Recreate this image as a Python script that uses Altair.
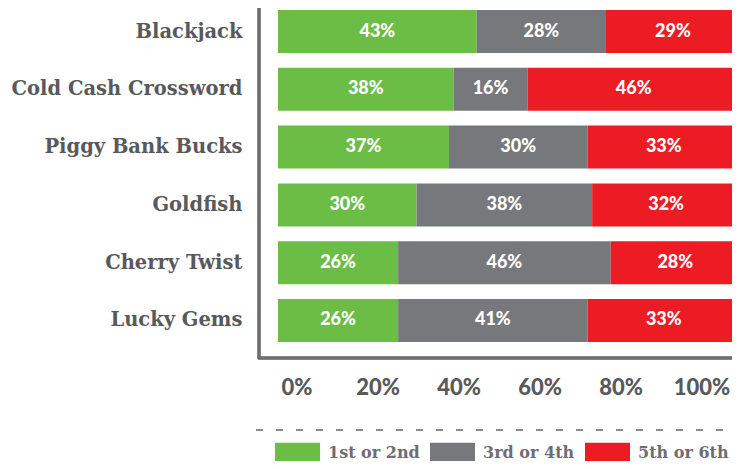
import altair as alt
import pandas as pd

games = ["Blackjack", "Cold Cash Crossword", "Piggy Bank Bucks", "Goldfish", "Cherry Twist", "Lucky Gems"]
groups = ["1st or 2nd", "3rd or 4th", "5th or 6th"]
first_second = [43, 38, 37, 30, 26, 26]
third_fourth = [28, 16, 30, 38, 46, 41]
fifth_sixth = [29, 46, 33, 32, 28, 33]
tick_values = [0, 20, 40, 60, 80, 100]
tick_labels = ["0%", "20%", "40%", "60%", "80%", "100%"]
colors = ["#6cbd45", "#77787b", "#ed1c24"]

rows = []
for i, g in enumerate(games):
    for j, (grp, vals) in enumerate(zip(groups, [first_second, third_fourth, fifth_sixth])):
        rows.append({"game": g, "group": grp, "value": vals[i], "ord": j})
df = pd.DataFrame(rows)
ticks = pd.DataFrame({"v": tick_values, "label": tick_labels})

SERIF = "DejaVu Serif"
SANS = "Lato"
LABEL_COLOR = "#58595b"

y_enc = alt.Y("game:N", sort=games, title=None,
              scale=alt.Scale(paddingInner=0.256, paddingOuter=0),
              axis=alt.Axis(domain=False, ticks=False, labelPadding=36, labelLimit=400,
                            labelFont=SERIF, labelFontSize=19.5, labelFontWeight="bold",
                            labelColor=LABEL_COLOR))

bars = alt.Chart(df).mark_bar().encode(
    x=alt.X("value:Q", stack="zero", scale=alt.Scale(domain=[0, 100], nice=False), axis=None),
    y=y_enc,
    color=alt.Color("group:N", sort=groups,
                    scale=alt.Scale(domain=groups, range=colors),
                    legend=alt.Legend(title=None, orient="none", direction="horizontal",
                                      legendX=-3, legendY=420,
                                      symbolType="M-1,-0.444H1V0.444H-1Z", symbolSize=2025,
                                      symbolStrokeWidth=0, symbolOpacity=1,
                                      labelFont=SERIF, labelFontSize=16, labelFontWeight="bold",
                                      labelColor="#6d6e71", labelOffset=8, columnPadding=10)),
    order=alt.Order("ord:Q"),
)

labels = alt.Chart(df).transform_window(
    cum="sum(value)", sort=[alt.SortField("ord")], groupby=["game"],
    frame=[None, 0]
).transform_calculate(
    mid="datum.cum - datum.value / 2",
    txt="datum.value + '%'"
).mark_text(color="white", font=SANS, fontSize=18, fontWeight=900, baseline="middle").encode(
    x=alt.X("mid:Q", scale=alt.Scale(domain=[0, 100], nice=False), axis=None),
    y=alt.Y("game:N", sort=games),
    text="txt:N",
)

tick_text = alt.Chart(ticks).mark_text(
    font=SANS, fontSize=22, fontWeight=900, color=LABEL_COLOR, baseline="middle"
).encode(
    x=alt.X("v:Q", scale=alt.Scale(domain=[0, 100], range=[19, 424], nice=False), axis=None),
    y=alt.value(378),
    text="label:N",
)

vline = alt.Chart(ticks).mark_rule(color="#6d6e71", strokeWidth=2.5).encode(
    x=alt.value(-19), y=alt.value(-5), y2=alt.value(349))
hline = alt.Chart(ticks).mark_rule(color="#6d6e71", strokeWidth=2.5).encode(
    x=alt.value(-20), x2=alt.value(460), y=alt.value(348))
dash = alt.Chart(ticks).mark_rule(color="#8a8a8a", strokeWidth=1.5, strokeDash=[7, 13]).encode(
    x=alt.value(-22), x2=alt.value(462), y=alt.value(420))

chart = alt.layer(vline, hline, dash, bars, labels, tick_text).resolve_scale(
    x="independent"
).properties(
    width=462, height=332,
    autosize=alt.AutoSizeParams(type="none"),
    padding={"left": 270, "top": 2, "right": -8, "bottom": 119},
).configure_view(stroke=None)

chart.save("out.html", embed_options={"renderer": "svg", "actions": False})
